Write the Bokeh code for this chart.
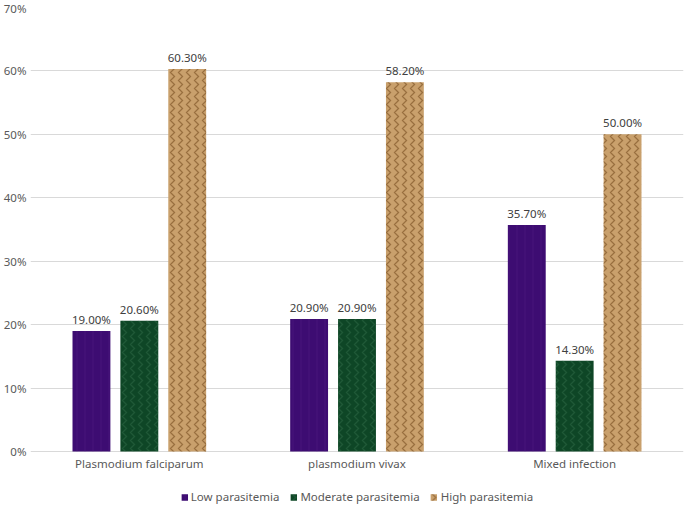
from bokeh.plotting import figure
from bokeh.models import (ColumnDataSource, FactorRange, Range1d, PrintfTickFormatter,
                          LabelSet, Legend, LegendItem, FixedTicker)
from bokeh.core.properties import value
from bokeh.transform import dodge
from bokeh.embed import file_html
from bokeh.resources import INLINE

categories = ["Plasmodium falciparum", "plasmodium vivax", "Mixed infection"]
low = [19.0, 20.9, 35.7]
moderate = [20.6, 20.9, 14.3]
high = [60.3, 58.2, 50.0]
series_names = ["Low parasitemia", "Moderate parasitemia", "High parasitemia"]
y_ticks = [0, 10, 20, 30, 40, 50, 60, 70]

FONT = "Noto Sans"

src = ColumnDataSource(dict(
    cat=categories, low=low, moderate=moderate, high=high,
    zero=[0, 0, 0],
    low_t=[f"{v:.2f}%" for v in low],
    moderate_t=[f"{v:.2f}%" for v in moderate],
    high_t=[f"{v:.2f}%" for v in high],
))

# frame: 444 px for 0..70, plus 56 px below zero for category labels and legend
y_bottom = -70 * 56 / 444

p = figure(x_range=FactorRange(*categories, range_padding=0), y_range=Range1d(y_bottom, 70),
           width=685, height=507, output_backend="svg", toolbar_location=None,
           min_border_top=7, min_border_right=2, min_border_left=29, min_border_bottom=0)
p.outline_line_color = None
p.background_fill_color = "white"
p.border_fill_color = "white"

styles = [
    ("low", -0.22, "#3d0c72", "#5a1f8c", "vertical_line", 0.25),
    ("moderate", 0.0, "#0e4626", "#3f7a55", "vertical_wave", 0.35),
    ("high", 0.22, "#c9a06c", "#7a4e22", "vertical_wave", 0.6),
]
renderers = []
for col, off, fill, hcol, hpat, halpha in styles:
    r = p.vbar(x=dodge("cat", off, range=p.x_range), top=col, bottom=0, width=0.174, source=src,
               fill_color=fill, line_color=None, hatch_pattern=hpat, hatch_color=hcol,
               hatch_alpha=halpha, hatch_scale=8, hatch_weight=1.3)
    renderers.append(r)
    lbl = LabelSet(x=dodge("cat", off, range=p.x_range), y=col, text=col + "_t", source=src,
                   text_align="center", text_baseline="bottom", y_offset=4,
                   text_font=value(FONT), text_font_size="11.5px", text_color="#404040")
    p.add_layout(lbl)

# category labels under the zero line
cat_labels = LabelSet(x="cat", y="zero", text="cat", source=src,
                      text_align="center", text_baseline="middle", y_offset=-12,
                      text_font=value(FONT), text_font_size="11.5px", text_color="#595959")
p.add_layout(cat_labels)

p.xaxis.visible = False
p.yaxis.ticker = FixedTicker(ticks=y_ticks)
p.yaxis.formatter = PrintfTickFormatter(format="%d%%")
p.yaxis.axis_line_color = None
p.yaxis.major_tick_line_color = None
p.yaxis.minor_tick_line_color = None
p.yaxis.major_tick_out = 0
p.yaxis.major_label_text_font = FONT
p.yaxis.major_label_text_font_size = "11.5px"
p.yaxis.major_label_text_color = "#595959"
p.yaxis.major_label_standoff = 4

p.xgrid.grid_line_color = None
p.ygrid.grid_line_color = "#d9d9d9"
p.ygrid.ticker = FixedTicker(ticks=y_ticks)

legend = Legend(items=[LegendItem(label=n, renderers=[r]) for n, r in zip(series_names, renderers)],
                orientation="horizontal", location="bottom_center",
                label_text_font=FONT, label_text_font_size="11.5px", label_text_color="#595959",
                glyph_width=8, glyph_height=8, label_standoff=3, spacing=10,
                border_line_color=None, background_fill_alpha=0,
                padding=0, margin=3, label_height=14)
p.add_layout(legend)

open("out.html", "w").write(file_html(p, INLINE))
